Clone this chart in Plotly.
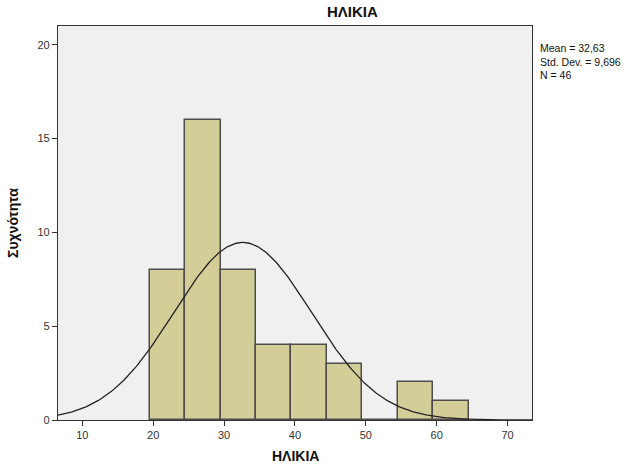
import numpy as np
import plotly.graph_objects as go

# Age histogram (bin width 5) with fitted normal curve
bin_starts = [19.5, 24.5, 29.5, 34.5, 39.5, 44.5, 49.5, 54.5, 59.5]
counts = [8, 16, 8, 4, 4, 3, 0, 2, 1]
bin_width = 5
mean_age = 32.63
std_age = 9.696
n_obs = 46

x_range = [6.57, 73.44]
y_range = [0, 21.0]
x_ticks = [10, 20, 30, 40, 50, 60, 70]
y_ticks = [0, 5, 10, 15, 20]

font_family = "Liberation Sans, Arial, sans-serif"

centers = [s + bin_width / 2 for s in bin_starts]

fig = go.Figure()
fig.add_trace(go.Bar(
    x=centers, y=counts, width=bin_width,
    marker=dict(color="#D3CE97", line=dict(color="#4d4d4d", width=1.5)),
    hoverinfo="skip",
))

xs = np.linspace(x_range[0], x_range[1], 400)
ys = n_obs * bin_width / (std_age * np.sqrt(2 * np.pi)) * np.exp(-0.5 * ((xs - mean_age) / std_age) ** 2)
fig.add_trace(go.Scatter(x=xs, y=ys, mode="lines",
                         line=dict(color="#222222", width=1.3), hoverinfo="skip"))

axis_common = dict(
    showgrid=False, zeroline=False, showline=True, mirror=True,
    linecolor="#333333", linewidth=1.3,
    ticks="outside", ticklen=5, tickcolor="#333333", tickwidth=1,
    tickfont=dict(family=font_family, size=11, color="#333333"),
)

fig.update_layout(
    width=637, height=469,
    margin=dict(l=58, r=105, t=26, b=49),
    paper_bgcolor="white", plot_bgcolor="#F0F0F0",
    showlegend=False, bargap=0,
    xaxis=dict(range=x_range, tickvals=x_ticks, **axis_common),
    yaxis=dict(range=y_range, tickvals=y_ticks, **axis_common),
    annotations=[
        dict(text="<b>ΗΛΙΚΙΑ</b>", xref="paper", yref="paper", x=(352 - 58) / 474, y=1,
             xanchor="center", yanchor="bottom", yshift=4, showarrow=False,
             font=dict(family=font_family, size=15, color="#111111")),
        dict(text="<b>ΗΛΙΚΙΑ</b>", xref="paper", yref="paper", x=0.5, y=0,
             xanchor="center", yanchor="top", yshift=-26, showarrow=False,
             font=dict(family=font_family, size=14, color="#111111")),
        dict(text="<b>Συχνότητα</b>", xref="paper", yref="paper", x=0, y=0.5,
             xanchor="center", yanchor="middle", xshift=-45, textangle=-90, showarrow=False,
             font=dict(family=font_family, size=14, color="#111111")),
        dict(text="Mean = 32,63<br>Std. Dev. = 9,696<br>N = 46",
             xref="paper", yref="paper", x=1, y=1, xanchor="left", yanchor="top",
             xshift=6, yshift=-14, showarrow=False, align="left",
             font=dict(family=font_family, size=10.5, color="#111111")),
    ],
)

fig.write_html("out.html")
